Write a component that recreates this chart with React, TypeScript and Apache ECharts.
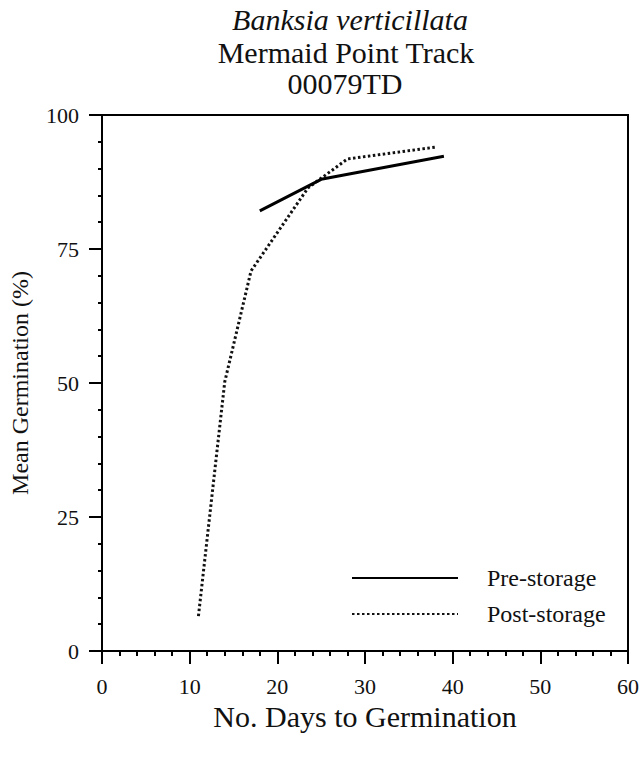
import React, { useEffect, useRef } from "react";
import * as echarts from "echarts";

const titleLines = ["Banksia verticillata", "Mermaid Point Track", "00079TD"];
const xAxisName = "No. Days to Germination";
const yAxisName = "Mean Germination (%)";
const seriesNames = ["Pre-storage", "Post-storage"];

// [days, mean germination %]
const preStorage: [number, number][] = [
  [18, 82.1],
  [25, 88.0],
  [39, 92.3],
];
const postStorage: [number, number][] = [
  [11, 6.5],
  [14, 50.2],
  [17, 70.9],
  [23.5, 86.4],
  [28, 91.8],
  [38, 94.0],
];

const xTicks = { min: 0, max: 60, interval: 10 };
const yTicks = { min: 0, max: 100, interval: 25 };

const FONT = "'Liberation Serif', 'Times New Roman', Times, serif";
const INK = "#111";

export default function App() {
  const ref = useRef<HTMLDivElement>(null);
  useEffect(() => {
    if (!ref.current) return;
    const chart = echarts.init(ref.current, undefined, { renderer: "svg" });
    chart.setOption({
      animation: false,
      backgroundColor: "#fff",
      graphic: [
        {
          type: "text",
          x: 350,
          y: 19,
          style: {
            text: titleLines[0],
            font: `italic 30px ${FONT}`,
            fill: INK,
            textAlign: "center",
            textVerticalAlign: "middle",
          },
        },
        {
          type: "text",
          x: 346,
          y: 52,
          style: {
            text: titleLines[1],
            font: `30px ${FONT}`,
            fill: INK,
            textAlign: "center",
            textVerticalAlign: "middle",
          },
        },
        {
          type: "text",
          x: 345,
          y: 83,
          style: {
            text: titleLines[2],
            font: `30px ${FONT}`,
            fill: INK,
            textAlign: "center",
            textVerticalAlign: "middle",
          },
        },
      ],
      grid: {
        left: 102,
        top: 115,
        right: 13,
        bottom: 107,
        show: true,
        borderColor: "#000",
        borderWidth: 2,
        backgroundColor: "transparent",
      },
      legend: {
        orient: "vertical",
        left: 346,
        top: 561,
        itemWidth: 106,
        itemHeight: 14,
        itemGap: 12,
        itemStyle: { opacity: 0, borderWidth: 0 },
        textStyle: {
          fontFamily: FONT,
          fontSize: 24,
          color: INK,
          padding: [7, 0, 0, 24],
        },
        data: seriesNames,
      },
      xAxis: {
        type: "value",
        min: xTicks.min,
        max: xTicks.max,
        interval: xTicks.interval,
        name: xAxisName,
        nameLocation: "middle",
        nameGap: 48,
        nameTextStyle: { fontFamily: FONT, fontSize: 30, color: INK },
        axisLine: { show: true, lineStyle: { color: "#000", width: 2 } },
        axisTick: { show: true, length: 13, lineStyle: { color: "#000", width: 2 } },
        minorTick: { show: true, splitNumber: 5, length: 5, lineStyle: { color: "#000", width: 2 } },
        axisLabel: { fontFamily: FONT, fontSize: 22, color: INK, margin: 24 },
        splitLine: { show: false },
      },
      yAxis: {
        type: "value",
        min: yTicks.min,
        max: yTicks.max,
        interval: yTicks.interval,
        name: yAxisName,
        nameLocation: "middle",
        nameGap: 70,
        nameTextStyle: { fontFamily: FONT, fontSize: 24, color: INK },
        axisLine: { show: true, lineStyle: { color: "#000", width: 2 } },
        axisTick: { show: true, length: 13, lineStyle: { color: "#000", width: 2 } },
        minorTick: { show: true, splitNumber: 5, length: 4, lineStyle: { color: "#000", width: 2 } },
        axisLabel: { fontFamily: FONT, fontSize: 22, color: INK, margin: 23 },
        splitLine: { show: false },
      },
      series: [
        {
          name: seriesNames[1],
          type: "line",
          data: postStorage,
          symbol: "none",
          lineStyle: { color: "#111", width: 3, type: [2.5, 2.5] },
          itemStyle: { color: "#111" },
          z: 2,
        },
        {
          name: seriesNames[0],
          type: "line",
          data: preStorage,
          symbol: "none",
          lineStyle: { color: "#000", width: 3, type: "solid" },
          itemStyle: { color: "#000" },
          z: 3,
        },
      ],
    });
    return () => chart.dispose();
  }, []);
  return (
    <div
      ref={ref}
      style={{ position: "fixed", left: 0, top: 0, width: 642, height: 758 }}
    />
  );
}
